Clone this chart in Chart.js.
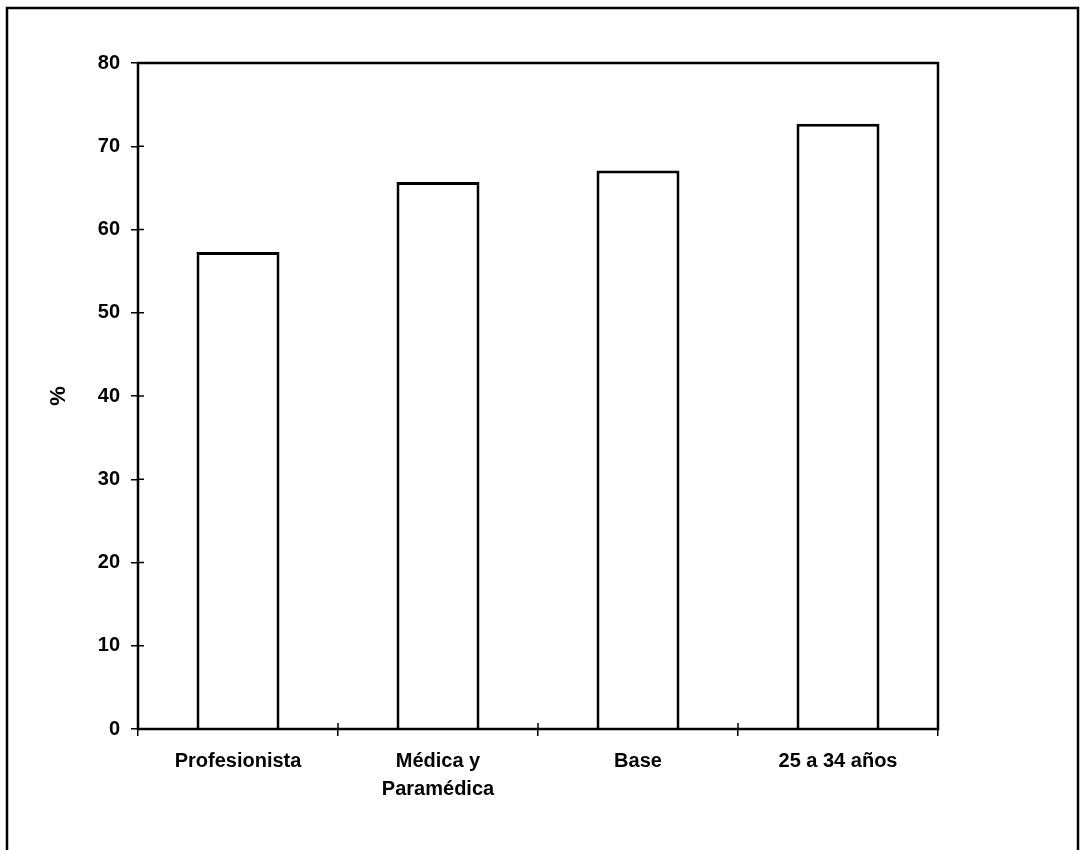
<!DOCTYPE html>
<html>
<head>
<meta charset="utf-8">
<script src="https://cdn.jsdelivr.net/npm/chart.js@4.4.1/dist/chart.umd.min.js"></script>
<style>
	body { margin: 0; background: #fff; }
	#wrap { width: 1080px; height: 850px; }
</style>
</head>
<body>
<div id="wrap"><canvas id="mycanvas" width="1080" height="850"></canvas></div>
<script>
var categorias = ['Profesionista', ['Médica y', 'Paramédica'], 'Base', '25 a 34 años'];
var porcentajes = [57.3, 65.7, 67.1, 72.7];
var ticksY = [0, 10, 20, 30, 40, 50, 60, 70, 80];

var fuente = "'Liberation Sans', Arial, sans-serif";

// marco exterior, caja del area y marcas interiores
var marco = {
	id: 'marco',
	afterDraw: function(chart) {
		var ctx = chart.ctx;
		var a = chart.chartArea;
		ctx.save();
		ctx.strokeStyle = '#000';
		ctx.lineWidth = 2.5;
		ctx.beginPath();
		ctx.moveTo(7, 850);
		ctx.lineTo(7, 8);
		ctx.lineTo(1078, 8);
		ctx.lineTo(1078, 850);
		ctx.stroke();

		ctx.strokeRect(a.left, a.top, a.right - a.left, a.bottom - a.top);

		ctx.lineWidth = 1.5;
		var y = chart.scales.y;
		y.ticks.forEach(function(t, i) {
			var py = y.getPixelForTick(i);
			ctx.beginPath();
			ctx.moveTo(a.left, py);
			ctx.lineTo(a.left + 6, py);
			ctx.stroke();
		});
		var x = chart.scales.x;
		for (var i = 1; i < categorias.length; i++) {
			var px = (x.getPixelForValue(i - 1) + x.getPixelForValue(i)) / 2;
			ctx.beginPath();
			ctx.moveTo(px, a.bottom);
			ctx.lineTo(px, a.bottom - 6);
			ctx.stroke();
		}
		ctx.restore();
	}
};

var ctx = document.getElementById('mycanvas');

new Chart(ctx, {
	type: 'bar',
	data: {
		labels: categorias,
		datasets: [{
			label: '%',
			data: porcentajes,
			backgroundColor: '#fff',
			borderColor: '#000',
			borderWidth: 3,
			borderSkipped: 'bottom',
			categoryPercentage: 1,
			barPercentage: 0.415
		}]
	},
	options: {
		responsive: false,
		animation: false,
		layout: { padding: { left: 0, top: 63, right: 142, bottom: 0 } },
		plugins: {
			legend: { display: false },
			tooltip: { enabled: false }
		},
		scales: {
			y: {
				min: 0,
				max: 80,
				afterBuildTicks: function(s) { s.ticks = ticksY.map(function(v) { return { value: v }; }); },
				afterFit: function(s) { s.width = 138; },
				grid: { drawOnChartArea: false, tickLength: 7, color: '#000', lineWidth: 1.5 },
				border: { display: false },
				ticks: { color: '#000', padding: 11, font: { family: fuente, size: 20, weight: 'bold' } },
				title: {
					display: true,
					text: '%',
					color: '#000',
					padding: { top: 46, bottom: 0 },
					font: { family: fuente, size: 22, weight: 'bold' }
				}
			},
			x: {
				afterFit: function(s) { s.height = 121; },
				grid: { offset: true, drawOnChartArea: false, tickLength: 7, color: '#000', lineWidth: 1.5 },
				border: { display: false },
				ticks: { color: '#000', padding: 11, maxRotation: 0, font: { family: fuente, size: 20, weight: 'bold', lineHeight: 1.4 } }
			}
		}
	},
	plugins: [marco]
});
</script>
</body>
</html>
